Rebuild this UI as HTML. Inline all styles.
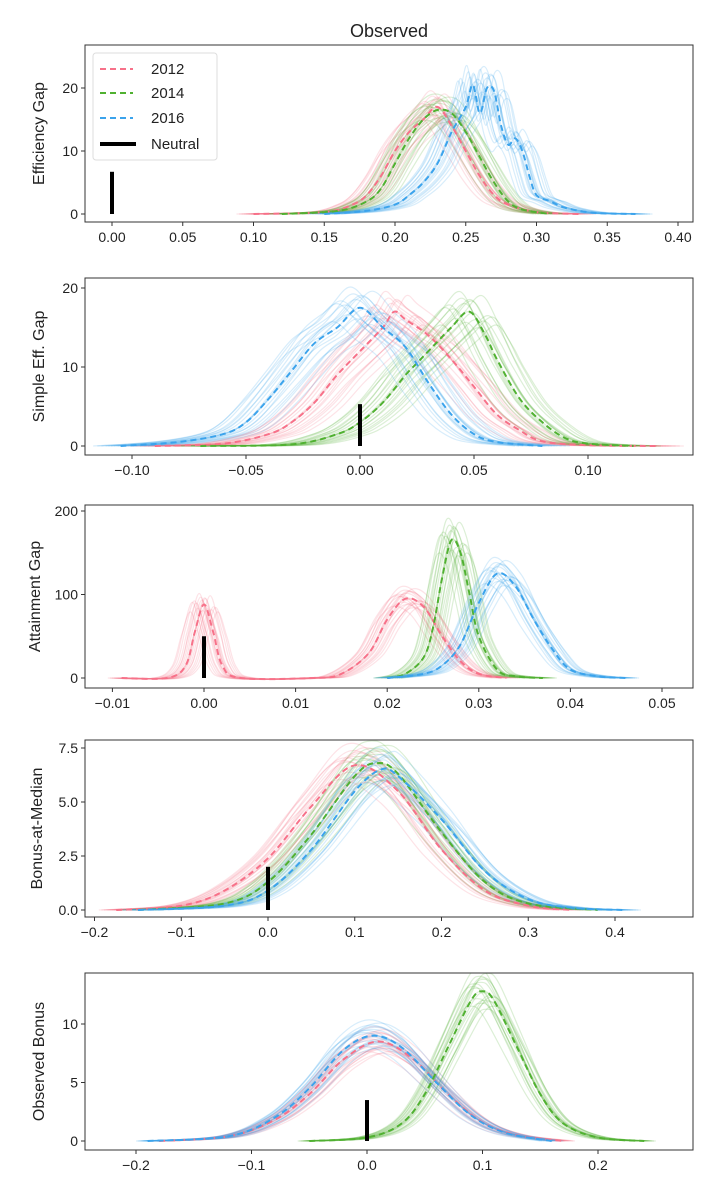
<!DOCTYPE html>
<html><head><meta charset="utf-8"><style>
html,body{margin:0;padding:0;background:#fff}
svg{display:block}
text{font-family:"Liberation Sans Narrow","Liberation Sans",sans-serif;fill:#222}
</style></head><body>
<svg id="chart" width="720" height="1200" viewBox="0 0 720 1200" xmlns="http://www.w3.org/2000/svg">
<text x="389" y="37" font-size="18" text-anchor="middle">Observed</text>
</svg>
<script>
// ---------- data ----------
const years = ["2012","2014","2016"];
const colors = ["#f77189","#50b131","#3ba3ec"];
const panelNames = ["Efficiency Gap","Simple Eff. Gap","Attainment Gap","Bonus-at-Median","Observed Bonus"];
const neutralHeights = [6.7, 5.3, 50, 2.0, 3.5];
// sample variation (relative shifts of x, scales of y) for faint lines
const sampleShifts = [-1,-0.7,-0.45,-0.25,-0.1,0,0.1,0.25,0.45,0.7,1,-0.85,0.85,-0.35,0.35,-0.55,0.55,-0.15,0.15,0.05];
const sampleScales = [0.9,1.05,0.95,1.1,0.92,1.0,1.08,0.94,1.12,0.97,0.9,1.03,0.96,1.15,0.88,1.02,0.93,1.06,0.99,1.09];
const sampleSpread = [0.012, 0.012, 0.0015, 0.02, 0.01];

// panel 1: efficiency gap
const p1x2012 = [0.10,0.15,0.17,0.18,0.19,0.20,0.21,0.22,0.23,0.24,0.25,0.26,0.27,0.28,0.30,0.33];
const p1y2012 = [0,0.3,1.5,3,6,10,13,15,17,14,10,6,3,1.5,0.3,0];
const p1x2014 = [0.12,0.16,0.18,0.19,0.20,0.21,0.22,0.23,0.24,0.25,0.26,0.27,0.28,0.29,0.31];
const p1y2014 = [0,0.5,2,4,8,12,15,16.5,16,13,9,5,2,0.7,0];
const p1x2016 = [0.15,0.18,0.20,0.21,0.22,0.23,0.24,0.25,0.255,0.26,0.265,0.27,0.275,0.28,0.285,0.29,0.295,0.30,0.31,0.32,0.34,0.37];
const p1y2016 = [0,0.5,1.5,3,5,8,13,17,20.5,16,20,19.5,14,11,12,10,6,3,2,1,0.2,0];
// panel 2: simple efficiency gap
const p2x2012 = [-0.09,-0.06,-0.04,-0.03,-0.02,-0.01,0,0.01,0.015,0.02,0.03,0.04,0.05,0.06,0.07,0.08,0.10,0.13];
const p2y2012 = [0,0.3,1.5,3,5.5,9,12,15,17,16,14,11,7.5,4,2,0.6,0.1,0];
const p2x2014 = [-0.07,-0.03,-0.01,0,0.01,0.02,0.025,0.03,0.04,0.048,0.055,0.06,0.07,0.08,0.09,0.10,0.12];
const p2y2014 = [0,0.2,1.5,3,5.5,9,10.5,12,15,17,14,11,6,3,1,0.3,0];
const p2x2016 = [-0.105,-0.08,-0.06,-0.05,-0.04,-0.03,-0.02,-0.01,0,0.01,0.02,0.03,0.04,0.05,0.06,0.08];
const p2y2016 = [0,0.5,1.5,3,6,9.5,13,15,17.5,15,12.5,8,4,1.5,0.5,0];
// panel 3: attainment gap
const p3x2012 = [-0.009,-0.004,-0.002,-0.001,0,0.001,0.002,0.004,0.012,0.015,0.018,0.02,0.022,0.024,0.026,0.028,0.03,0.033];
const p3y2012 = [0,0,15,55,88,55,15,0,0,5,30,70,95,85,50,20,5,0];
const p3x2014 = [0.02,0.022,0.024,0.025,0.026,0.027,0.028,0.029,0.03,0.032,0.034,0.037];
const p3y2014 = [0,5,25,60,120,165,150,100,50,10,2,0];
const p3x2016 = [0.02,0.024,0.026,0.028,0.03,0.032,0.034,0.036,0.038,0.04,0.043,0.046];
const p3y2016 = [0,5,15,40,90,125,110,70,35,10,2,0];
// panel 4: bonus at median
const p4x2012 = [-0.175,-0.1,-0.05,0,0.05,0.1,0.15,0.2,0.25,0.3,0.35];
const p4y2012 = [0,0.2,0.9,2.4,4.8,6.7,5.5,2.8,0.9,0.2,0];
const p4x2014 = [-0.15,-0.05,0,0.05,0.1,0.125,0.15,0.2,0.25,0.3,0.38];
const p4y2014 = [0,0.3,1.3,3.5,6.2,6.8,6.3,3.6,1.3,0.3,0];
const p4x2016 = [-0.15,-0.05,0,0.05,0.1,0.13,0.15,0.2,0.25,0.3,0.35,0.41];
const p4y2016 = [0,0.2,0.9,2.8,5.5,6.5,6.2,4.2,1.8,0.5,0.1,0];
// panel 5: observed bonus
const p5x2012 = [-0.18,-0.12,-0.08,-0.05,-0.02,0.01,0.04,0.07,0.1,0.13,0.17];
const p5y2012 = [0,0.4,1.8,4,7,8.5,7,4,1.6,0.5,0];
const p5x2014 = [-0.05,0,0.03,0.05,0.07,0.09,0.1,0.11,0.13,0.15,0.17,0.2,0.24];
const p5y2014 = [0,0.3,1.5,4,8,12,12.8,12,8,4,1.5,0.3,0];
const p5x2016 = [-0.19,-0.12,-0.08,-0.05,-0.02,0.005,0.03,0.06,0.09,0.12,0.16];
const p5y2016 = [0,0.4,2,4.5,7.8,9,8,5,2.2,0.7,0];

const xTicks = [
  [0,0.05,0.10,0.15,0.20,0.25,0.30,0.35,0.40],
  [-0.10,-0.05,0,0.05,0.10],
  [-0.01,0,0.01,0.02,0.03,0.04,0.05],
  [-0.2,-0.1,0,0.1,0.2,0.3,0.4],
  [-0.2,-0.1,0,0.1,0.2]];
const xTickLabels = [
  ["0.00","0.05","0.10","0.15","0.20","0.25","0.30","0.35","0.40"],
  ["−0.10","−0.05","0.00","0.05","0.10"],
  ["−0.01","0.00","0.01","0.02","0.03","0.04","0.05"],
  ["−0.2","−0.1","0.0","0.1","0.2","0.3","0.4"],
  ["−0.2","−0.1","0.0","0.1","0.2"]];
const yTicks = [[0,10,20],[0,10,20],[0,100,200],[0,2.5,5,7.5],[0,5,10]];
const yTickLabels = [["0","10","20"],["0","10","20"],["0","100","200"],["0.0","2.5","5.0","7.5"],["0","5","10"]];

// ---------- layout (pixel calibration) ----------
const layout = [
  {top:45,bottom:222,x0:0,px0:112,x1:0.40,px1:678,y0:0,py0:214,y1:20,py1:88},
  {top:278,bottom:455,x0:0,px0:360,x1:0.10,px1:588,y0:0,py0:446,y1:20,py1:288},
  {top:505,bottom:688,x0:0,px0:204,x1:0.05,px1:662,y0:0,py0:678,y1:200,py1:511},
  {top:740,bottom:917,x0:0,px0:268,x1:0.4,px1:615,y0:0,py0:910,y1:7.5,py1:748},
  {top:973,bottom:1150,x0:-0.2,px0:136,x1:0.2,px1:598,y0:0,py0:1141,y1:10,py1:1024}];
const L=85,R=693;
const series = [
  [[p1x2012,p1y2012],[p1x2014,p1y2014],[p1x2016,p1y2016]],
  [[p2x2012,p2y2012],[p2x2014,p2y2014],[p2x2016,p2y2016]],
  [[p3x2012,p3y2012],[p3x2014,p3y2014],[p3x2016,p3y2016]],
  [[p4x2012,p4y2012],[p4x2014,p4y2014],[p4x2016,p4y2016]],
  [[p5x2012,p5y2012],[p5x2014,p5y2014],[p5x2016,p5y2016]]];

const NS="http://www.w3.org/2000/svg";
const svg=document.getElementById('chart');
function mk(tag,attrs,parent){const e=document.createElementNS(NS,tag);for(const k in attrs)e.setAttribute(k,attrs[k]);(parent||svg).appendChild(e);return e;}

function smoothPath(pts){
  let d="M"+pts[0][0].toFixed(1)+","+pts[0][1].toFixed(1);
  for(let i=0;i<pts.length-1;i++){
    const p0=pts[Math.max(0,i-1)],p1=pts[i],p2=pts[i+1],p3=pts[Math.min(pts.length-1,i+2)];
    const c1x=p1[0]+(p2[0]-p0[0])/6,c1y=p1[1]+(p2[1]-p0[1])/6;
    const c2x=p2[0]-(p3[0]-p1[0])/6,c2y=p2[1]-(p3[1]-p1[1])/6;
    d+=" C"+c1x.toFixed(1)+","+c1y.toFixed(1)+" "+c2x.toFixed(1)+","+c2y.toFixed(1)+" "+p2[0].toFixed(1)+","+p2[1].toFixed(1);
  }
  return d;
}

layout.forEach((lo,pi)=>{
  const sx=v=>lo.px0+(v-lo.x0)*(lo.px1-lo.px0)/(lo.x1-lo.x0);
  const sy=v=>lo.py0+(v-lo.y0)*(lo.py1-lo.py0)/(lo.y1-lo.y0);
  const g=mk('g',{});
  
  
  const clipId='clip'+pi;
  const cp=mk('clipPath',{id:clipId},g);
  mk('rect',{x:L,y:lo.top,width:R-L,height:lo.bottom-lo.top},cp);
  const plot=mk('g',{'clip-path':'url(#'+clipId+')'},g);
  series[pi].forEach((s,yi)=>{
    const sg=mk('g',{},plot);
    
    
    sampleShifts.forEach((sh,k)=>{
      const pts=s[0].map((x,j)=>[sx(x+sh*sampleSpread[pi]),sy(s[1][j]*sampleScales[k])]);
      const p=mk('path',{d:smoothPath(pts),fill:'none',stroke:colors[yi],'stroke-width':1.2,'stroke-opacity':0.2},sg);
      
      
    });
  });
  series[pi].forEach((s,yi)=>{
    const pts=s[0].map((x,j)=>[sx(x),sy(s[1][j])]);
    const p=mk('path',{d:smoothPath(pts),fill:'none',stroke:colors[yi],'stroke-width':2,'stroke-dasharray':'6,4'},plot);
    
    
  });
  const nb=mk('line',{x1:sx(0),x2:sx(0),y1:sy(0),y2:sy(neutralHeights[pi]),stroke:'#000','stroke-width':4},plot);
  
  
  const fr=mk('rect',{x:L,y:lo.top,width:R-L,height:lo.bottom-lo.top,fill:'none',stroke:'#333','stroke-width':1},g);
  
  
  xTicks[pi].forEach((t,k)=>{
    const x=sx(t);
    mk('line',{x1:x,x2:x,y1:lo.bottom,y2:lo.bottom+4,stroke:'#333'},g);
    const tx=mk('text',{x:x,y:lo.bottom+20,'font-size':14,'text-anchor':'middle'},g);
    tx.textContent=xTickLabels[pi][k];
    
    
  });
  yTicks[pi].forEach((t,k)=>{
    const y=sy(t);
    mk('line',{x1:L-4,x2:L,y1:y,y2:y,stroke:'#333'},g);
    const tx=mk('text',{x:L-7,y:y+5,'font-size':14,'text-anchor':'end'},g);
    tx.textContent=yTickLabels[pi][k];
    
    
  });
  const cy=(lo.top+lo.bottom)/2;
  const yl=mk('text',{x:0,y:0,'font-size':16,'text-anchor':'middle',transform:'translate('+(pi==2?40:pi==3?42:44)+','+cy+') rotate(-90)'},g);
  yl.textContent=panelNames[pi];
  
  
});

const lg=mk('g',{});


mk('rect',{x:93,y:53,width:124,height:107,rx:3,fill:'#fff','fill-opacity':0.85,stroke:'#ddd'},lg);
const legY=[69,93,118];
years.forEach((yr,i)=>{
  const e=mk('g',{},lg);
  
  
  mk('line',{x1:100,x2:133,y1:legY[i],y2:legY[i],stroke:colors[i],'stroke-width':2,'stroke-dasharray':'6,4'},e);
  const t=mk('text',{x:151,y:legY[i]+5,'font-size':15},e);t.textContent=yr;
});
const ne=mk('g',{},lg);


mk('line',{x1:100,x2:136,y1:144,y2:144,stroke:'#000','stroke-width':4},ne);
const nt=mk('text',{x:151,y:149,'font-size':15},ne);nt.textContent="Neutral";
</script>
</body></html>
